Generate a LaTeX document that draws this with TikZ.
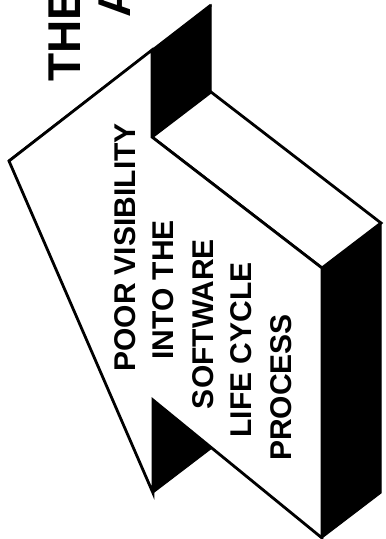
\documentclass[tikz,border=0pt]{standalone}
\usepackage{fontspec}
\setmainfont{Liberation Sans}
\usetikzlibrary{calc}

\begin{document}
\begin{tikzpicture}[x=1pt, y=-1pt,
    outline/.style={draw=black, fill=white, line width=2.8pt, line join=miter},
    darkface/.style={fill=black, draw=black, line width=1pt, line join=miter},
    labelline/.style={rotate=90, inner sep=0pt, font=\bfseries\fontsize{30}{36}\selectfont},
    titleline/.style={rotate=90, anchor=base west, inner sep=0pt, font=\bfseries\fontsize{46}{50}\selectfont}]
  \useasboundingbox (0,0) rectangle (386,539);
  \clip (0,0) rectangle (386,539);
  % corners of the front face
  \coordinate (tip) at (9,161);
  \coordinate (headtop) at (152,50);
  \coordinate (headin) at (152,137);
  \coordinate (endtop) at (322,268);
  \coordinate (endbot) at (322,538);
  \coordinate (lowin) at (153,400);
  \coordinate (lowbarb) at (153,493);
  % depth of the arrow
  \coordinate (depth) at (59,-45);
  % top of the shaft
  \draw[outline] (headin) -- (endtop) -- ($(endtop)+(depth)$) -- ($(headin)+(depth)$) -- cycle;
  % shaded faces
  \draw[darkface] (headtop) -- ($(headtop)+(depth)$) -- ($(headin)+(depth)$) -- (headin) -- cycle;
  \draw[darkface] (endtop) -- (endbot) -- ($(endbot)+(depth)$) -- ($(endtop)+(depth)$) -- cycle;
  \draw[darkface] (lowin) -- (lowbarb) -- ($(lowbarb)+(depth)$) -- cycle;
  \draw[line width=2.8pt] (tip) -- ($(headtop)+(depth)$);
  % front face
  \draw[outline] (tip) -- (headtop) -- (headin) -- (endtop) -- (endbot)
    -- (lowin) -- (lowbarb) -- cycle;
  % text on the arrow
  \node[labelline] (poor) at (125,247.5) {POOR VISIBILITY};
  \node[labelline] (into) at (163.5,290) {INTO THE};
  \node[labelline] (soft) at (203.5,324) {SOFTWARE};
  \node[labelline] (life) at (241.5,350) {LIFE CYCLE};
  \node[labelline] (proc) at (281.5,387.5) {PROCESS};
  % title, cut off by the top edge
  \node[titleline] (title) at (80,82) {THE};
  \node[titleline] (titleb) at (130,18) {A};
\end{tikzpicture}
\end{document}
